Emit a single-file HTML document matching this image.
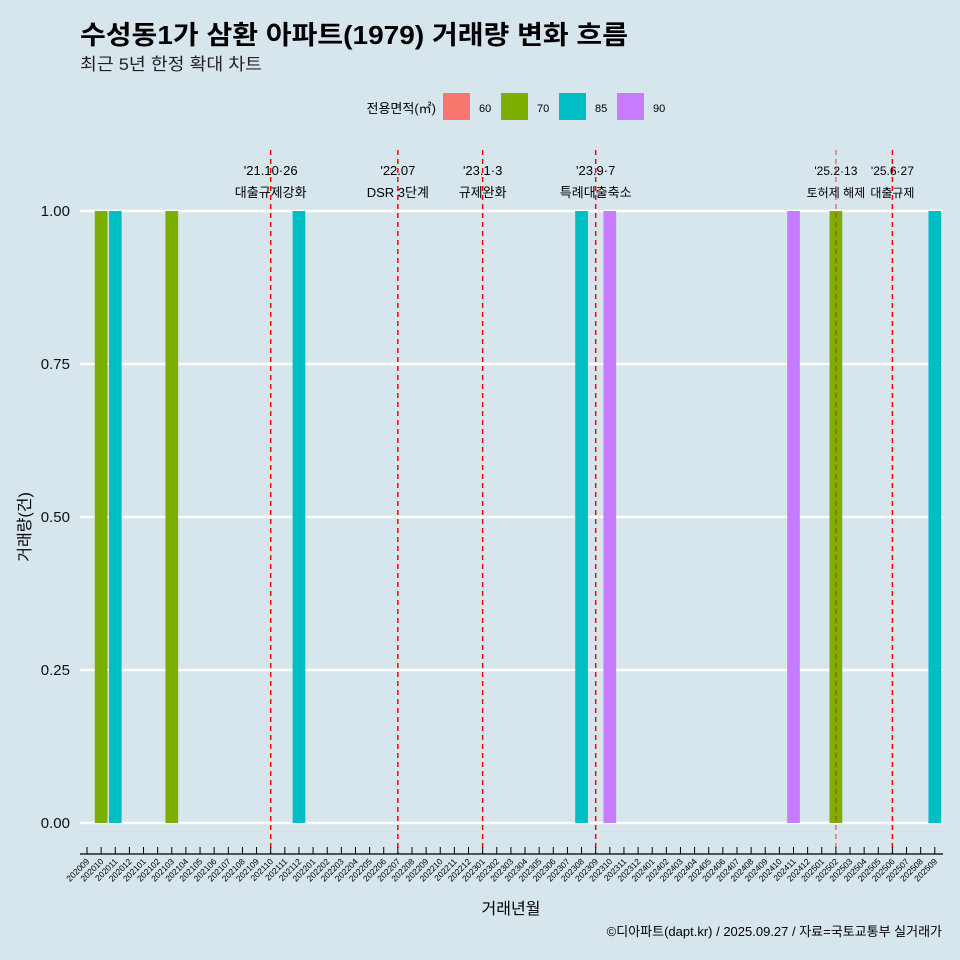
<!DOCTYPE html>
<html><head><meta charset="utf-8"><style>
html,body{margin:0;padding:0;background:#d7e5ec;overflow:hidden;}
svg{display:block;}
svg text{font-family:"Liberation Sans","Noto Sans CJK KR",sans-serif;}
</style></head><body>
<svg width="960" height="960" viewBox="0 0 960 960">
<rect width="960" height="960" fill="#d7e5ec"/>
<text x="80" y="44" font-size="26" font-weight="bold" fill="#000" textLength="548" lengthAdjust="spacingAndGlyphs">수성동1가 삼환 아파트(1979) 거래량 변화 흐름</text>
<text x="80" y="70" font-size="17" fill="#222" textLength="182" lengthAdjust="spacingAndGlyphs">최근 5년 한정 확대 차트</text>
<g id="legend"></g>
<g id="grid"></g><g id="bars"></g><g id="events"></g><g id="axes"></g>
<text x="20" y="517" font-size="16" transform="rotate(-90 30 517)" text-anchor="middle">거래량(건)</text>
<text x="511" y="914" font-size="16" text-anchor="middle">거래년월</text>
<text x="942" y="936" font-size="13" text-anchor="end">©디아파트(dapt.kr) / 2025.09.27 / 자료=국토교통부 실거래가</text>
</svg>
<script>
const areas=['60','70','85','90'];
const areaColors=['#f8766d','#7cae00','#00bfc4','#c77cff'];
const barMonths=['202010','202011','202103','202112','202308','202310','202411','202502','202509'];
const barAreas=['70','85','70','85','85','90','90','70','85'];
const barValues=[1,1,1,1,1,1,1,1,1];
const yTicks=[0,0.25,0.5,0.75,1];
const yTickLabels=['0.00','0.25','0.50','0.75','1.00'];
const eventMonths=['202110','202207','202301','202309','202502','202506'];
const eventLine1=["'21.10·26","'22.07","'23.1·3","'23.9·7","'25.2·13","'25.6·27"];
const eventLine2=['대출규제강화','DSR 3단계','규제완화','특례대출축소','토허제 해제','대출규제'];
const months=[];for(let y=2020;y<=2025;y++)for(let m=1;m<=12;m++){const s=''+y+(m<10?'0':'')+m;if(s>='202009'&&s<='202509')months.push(s);}
const NS='http://www.w3.org/2000/svg';
function mk(t,a,p){const e=document.createElementNS(NS,t);for(const k in a)e.setAttribute(k,a[k]);p.appendChild(e);return e;}
const x0=87,step=14.13,yB=823,yT=211;
const X=m=>x0+months.indexOf(m)*step;
const Y=v=>yB-(yB-yT)*v;
const grid=document.getElementById('grid'),bars=document.getElementById('bars'),ev=document.getElementById('events'),ax=document.getElementById('axes'),lg=document.getElementById('legend');
yTicks.forEach((v,i)=>{
 const l=mk('line',{x1:80,x2:943,y1:Y(v),y2:Y(v),stroke:'#fff','stroke-width':2.5},grid);
 
 
 const t=mk('text',{x:70,y:Y(v)+5,'font-size':15,'text-anchor':'end',fill:'#111'},ax);
 t.textContent=yTickLabels[i];
 
 
});
barMonths.forEach((m,i)=>{
 const w=12.7;
 const r=mk('rect',{x:X(m)-w/2,y:Y(barValues[i]),width:w,height:Y(0)-Y(barValues[i]),fill:areaColors[areas.indexOf(barAreas[i])]},bars);
 
 
});
eventMonths.forEach((m,i)=>{
 const x=X(m);
 const l=mk('line',{x1:x,x2:x,y1:150,y2:854,stroke:'#ff0000','stroke-width':1.5,'stroke-dasharray':'5,4',opacity:i==4?0.5:1},ev);
 
 
 const fs=i>=4?12:13;
 const t1=mk('text',{x:x,y:175,'font-size':fs,'text-anchor':'middle'},ev);t1.textContent=eventLine1[i];
 
 
 const t2=mk('text',{x:x,y:197,'font-size':fs,'text-anchor':'middle'},ev);t2.textContent=eventLine2[i];
 
 
});
const al=mk('line',{x1:80,x2:943,y1:854,y2:854,stroke:'#000','stroke-width':1.2},ax);


months.forEach(m=>{
 const x=X(m);
 const tk=mk('line',{x1:x,x2:x,y1:847,y2:854,stroke:'#000'},ax);
 
 
 const t=mk('text',{x:x+3,y:862,'font-size':8.5,'text-anchor':'end',transform:`rotate(-45 ${x+3} 862)`},ax);
 t.textContent=m;
 
 
});
const lt=mk('text',{x:436,y:113,'font-size':13,'text-anchor':'end'},lg);lt.textContent='전용면적(㎡)';


areas.forEach((a,i)=>{
 const x=443+i*58;
 const r=mk('rect',{x:x,y:93,width:27,height:27,fill:areaColors[i]},lg);
 
 
 const t=mk('text',{x:x+36,y:112,'font-size':11},lg);t.textContent=a;
 
 
});
</script>
</body></html>
